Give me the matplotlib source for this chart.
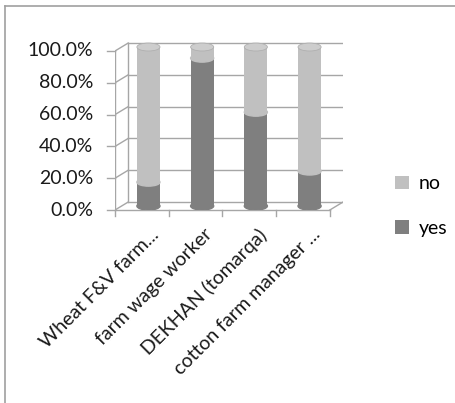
import matplotlib.pyplot as plt
from matplotlib.patches import Ellipse, Patch
from matplotlib.lines import Line2D

# data
categories = ['Wheat F&V farm...', 'farm wage worker', 'DEKHAN (tomarqa)', 'cotton farm manager ...']
yes = [0.15, 0.93, 0.59, 0.22]
no = [1 - v for v in yes]
ticks = [0.0, 0.2, 0.4, 0.6, 0.8, 1.0]
tick_labels = ['0.0%', '20.0%', '40.0%', '60.0%', '80.0%', '100.0%']

c_yes = '#7f7f7f'
c_no = '#c0c0c0'
c_grid = '#a6a6a6'
font = 'Lato'

# pseudo-3d depth offset (data units)
dx, dy = 0.245, 0.05
bw = 0.43
eh = 0.05

fig = plt.figure(figsize=(4.56, 4.03), dpi=100)
ax = fig.add_axes([115 / 456, 1 - 210 / 403, 228 / 456, 159 * 1.06 / 403])
ax.set_xlim(-0.5, 3.5 + dx)
ax.set_ylim(0, 1.06)
ax.axis('off')

n = len(categories)
# back wall gridlines + side connectors
for v, lab in zip(ticks, tick_labels):
    ax.plot([-0.5 + dx, n - 0.5 + dx], [v + dy, v + dy], color=c_grid, lw=1, zorder=1)
    ax.plot([-0.5, -0.5 + dx], [v, v + dy], color=c_grid, lw=1, zorder=1)
    ax.plot([-0.64, -0.5], [v, v], color=c_grid, lw=1, zorder=1, clip_on=False)
    ax.text(-0.9, v, lab, ha='right', va='center', fontsize=14, family=font, color='#1a1a1a')
ax.plot([-0.5 + dx, -0.5 + dx], [dy, 1 + dy], color=c_grid, lw=1, zorder=1)
ax.plot([-0.5, -0.5], [0, 1], color=c_grid, lw=1, zorder=1)
# floor
ax.plot([-0.5, n - 0.5], [0, 0], color=c_grid, lw=1, zorder=1, clip_on=False)
ax.plot([n - 0.5, n - 0.5 + dx], [0, dy], color=c_grid, lw=1, zorder=1)
for i in range(n + 1):
    ax.plot([i - 0.5, i - 0.5], [0, -0.04], color=c_grid, lw=1, zorder=1, clip_on=False)

# cylinders
xs = [i + dx / 2 for i in range(n)]
base = dy / 2
ax.bar(xs, yes, bottom=base, width=bw, color=c_yes, zorder=3)
ax.bar(xs, no, bottom=[base + y for y in yes], width=bw, color=c_no, zorder=3)
for x, y in zip(xs, yes):
    ax.add_patch(Ellipse((x, base), bw, eh, color=c_yes, zorder=2.9))
    ax.add_patch(Ellipse((x, base + y), bw, eh, color=c_no, zorder=3.1))
    ax.add_patch(Ellipse((x, base + 1), bw, eh, facecolor='#cdcdcd', edgecolor='#b0b0b0', lw=0.6, zorder=3.2))

# category labels
for i, lab in enumerate(categories):
    ax.text(i + 0.15, -0.10, lab, rotation=45, ha='right', va='top', rotation_mode='anchor',
            fontsize=14, family=font, color='#1a1a1a', clip_on=False)

handles = [Patch(facecolor=c_no, label='no'), Patch(facecolor=c_yes, label='yes')]
fig.legend(handles=handles, loc='center left', bbox_to_anchor=(378 / 456, 1 - 206 / 403),
           frameon=False, handlelength=0.7, handleheight=0.7, handletextpad=0.5,
           labelspacing=1.4, prop={'family': font, 'size': 14})

# outer border (left and top)
fig.add_artist(Line2D([5 / 456, 5 / 456], [0, 1 - 6 / 403], color='#a0a0a0', lw=1.2))
fig.add_artist(Line2D([5 / 456, 1], [1 - 6 / 403, 1 - 6 / 403], color='#a0a0a0', lw=1.2))

fig.savefig('out.png', dpi=100)
